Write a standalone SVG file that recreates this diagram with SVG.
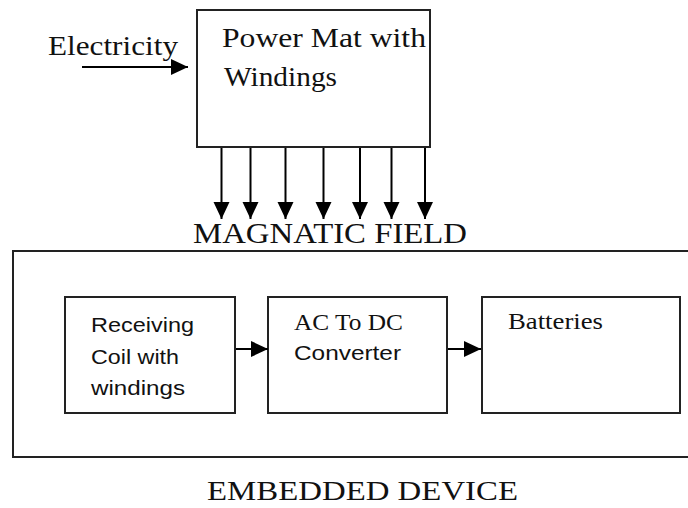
<svg xmlns="http://www.w3.org/2000/svg" width="688" height="508" viewBox="0 0 688 508">
<style>
.box{fill:#fff;stroke:#222;stroke-width:2}
.ln{stroke:#000;stroke-width:2;fill:none}
.serif{font-family:"Liberation Serif","Times New Roman",serif;fill:#111}
.sans{font-family:"Liberation Sans",Arial,sans-serif;fill:#111}
</style>
<defs>
<marker id="ah" markerUnits="userSpaceOnUse" markerWidth="18" markerHeight="18" refX="17" refY="8" orient="auto">
<path d="M0,0 L17,8 L0,16 Z" fill="#000"/>
</marker>
</defs>
<rect width="688" height="508" fill="#fff"/>
<g id="power-mat">
<rect class="box" x="197" y="10" width="233" height="137"/>
<text class="serif" x="222" y="47" font-size="27" textLength="204" lengthAdjust="spacingAndGlyphs">Power Mat with</text>
<text class="serif" x="224" y="86" font-size="27" textLength="113" lengthAdjust="spacingAndGlyphs">Windings</text>
</g>
<g id="electricity">
<text class="serif" x="48" y="55" font-size="27" textLength="130" lengthAdjust="spacingAndGlyphs">Electricity</text>
</g>
<g id="magnatic-field">
<text class="serif" x="193" y="243" font-size="29" textLength="274" lengthAdjust="spacingAndGlyphs">MAGNATIC FIELD</text>
</g>
<g id="embedded-device">
<rect class="box" x="13" y="251" width="690" height="206"/>
<text class="serif" x="207" y="500" font-size="27" textLength="311" lengthAdjust="spacingAndGlyphs">EMBEDDED DEVICE</text>
</g>
<g id="receiving-coil">
<rect class="box" x="65" y="297" width="170" height="116"/>
<text class="sans" x="91" y="332" font-size="20" textLength="103" lengthAdjust="spacingAndGlyphs">Receiving</text>
<text class="sans" x="91" y="364" font-size="20" textLength="88" lengthAdjust="spacingAndGlyphs">Coil with</text>
<text class="sans" x="91" y="395" font-size="20" textLength="94" lengthAdjust="spacingAndGlyphs">windings</text>
</g>
<g id="ac-dc-converter">
<rect class="box" x="268" y="297" width="179" height="116"/>
<text class="serif" x="294" y="330" font-size="24" textLength="109" lengthAdjust="spacingAndGlyphs">AC To DC</text>
<text class="sans" x="294" y="360" font-size="20" textLength="107" lengthAdjust="spacingAndGlyphs">Converter</text>
</g>
<g id="batteries">
<rect class="box" x="482" y="297" width="198" height="116"/>
<text class="serif" x="508" y="329" font-size="24" textLength="95" lengthAdjust="spacingAndGlyphs">Batteries</text>
</g>
<g id="connectors">
<line class="ln" x1="82" y1="67" x2="188" y2="67" marker-end="url(#ah)"/>
<line class="ln" x1="221.5" y1="148" x2="221.5" y2="219" marker-end="url(#ah)"/>
<line class="ln" x1="250.5" y1="148" x2="250.5" y2="219" marker-end="url(#ah)"/>
<line class="ln" x1="285.5" y1="148" x2="285.5" y2="219" marker-end="url(#ah)"/>
<line class="ln" x1="323.5" y1="148" x2="323.5" y2="219" marker-end="url(#ah)"/>
<line class="ln" x1="360" y1="148" x2="360" y2="219" marker-end="url(#ah)"/>
<line class="ln" x1="391.5" y1="148" x2="391.5" y2="219" marker-end="url(#ah)"/>
<line class="ln" x1="425" y1="148" x2="425" y2="219" marker-end="url(#ah)"/>
<line class="ln" x1="236" y1="349" x2="268" y2="349" marker-end="url(#ah)"/>
<line class="ln" x1="448" y1="349" x2="481" y2="349" marker-end="url(#ah)"/>
</g>
</svg>
